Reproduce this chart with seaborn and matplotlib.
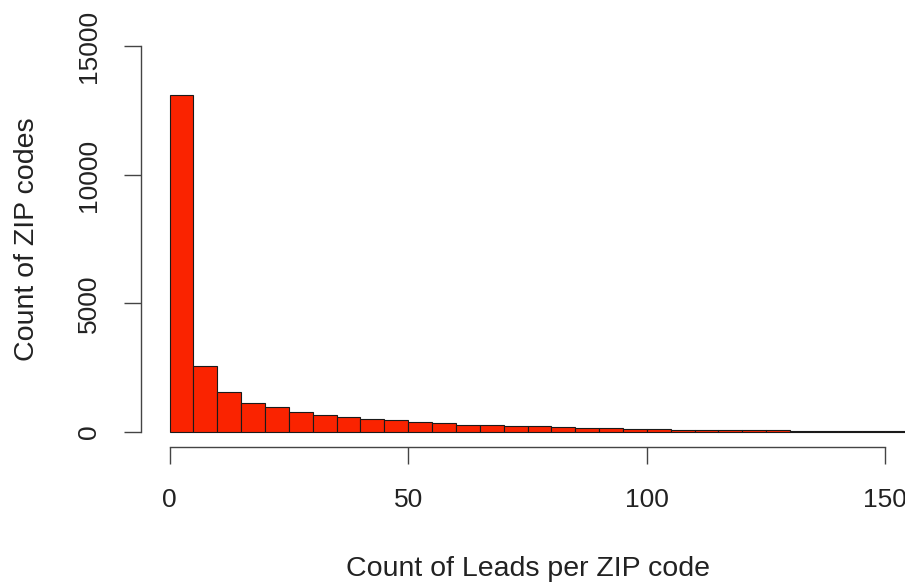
import pandas as pd
import matplotlib.pyplot as plt
import seaborn as sns

# histogram bins (width 5) and the count of ZIP codes in each bin
bin_edges = list(range(0, 160, 5))
zip_counts = [13100, 2560, 1560, 1140, 980, 790, 670, 570, 500, 450,
              390, 345, 290, 265, 245, 215, 175, 160, 145, 130,
              115, 95, 85, 80, 70, 65, 55, 50, 45, 40, 35]
bin_starts = bin_edges[:-1]

x_ticks = [0, 50, 100, 150]
y_ticks = [0, 5000, 10000, 15000]
x_title = 'Count of Leads per ZIP code'
y_title = 'Count of ZIP codes'

df = pd.DataFrame({'leads': bin_starts, 'zips': zip_counts})

sns.set_style('ticks')
plt.rcParams['font.family'] = ['Liberation Sans', 'DejaVu Sans']

fig = plt.figure(figsize=(9.05, 5.84), dpi=100)
# axes box reaches a little past the right edge, as in the cropped original
ax = fig.add_axes([141 / 905, (584 - 447.4) / 584, (914 - 141) / 905, 416.4 / 584])

sns.histplot(data=df, x='leads', weights='zips', bins=bin_edges,
             color='#FA2300', edgecolor='#1a1a1a', linewidth=0.8, alpha=1, ax=ax)

ax.set_xlim(-6, 156)
ax.set_ylim(-600, 15600)
ax.set_xticks(x_ticks)
ax.set_yticks(y_ticks)
ax.set_xticklabels([str(t) for t in x_ticks])
ax.set_yticklabels([str(t) for t in y_ticks], rotation=90, va='center')

# R style axes: lines only between first and last tick
sns.despine(ax=ax)
ax.spines['left'].set_bounds(0, 15000)
ax.spines['bottom'].set_bounds(0, 150)
for s in ('left', 'bottom'):
    ax.spines[s].set_color('#444444')
    ax.spines[s].set_linewidth(1.0)

ax.tick_params(axis='both', direction='out', length=12, width=1.0,
               color='#444444', labelsize=19, labelcolor='#222222', pad=17)

ax.set_xlabel(x_title, fontsize=20.5, color='#222222')
ax.set_ylabel(y_title, fontsize=20.5, color='#222222')
ax.xaxis.set_label_coords(0.501, (447.4 - 556) / 416.4)
ax.yaxis.set_label_coords((40 - 141) / 773, 0.5)

fig.savefig('out.png', dpi=100)
